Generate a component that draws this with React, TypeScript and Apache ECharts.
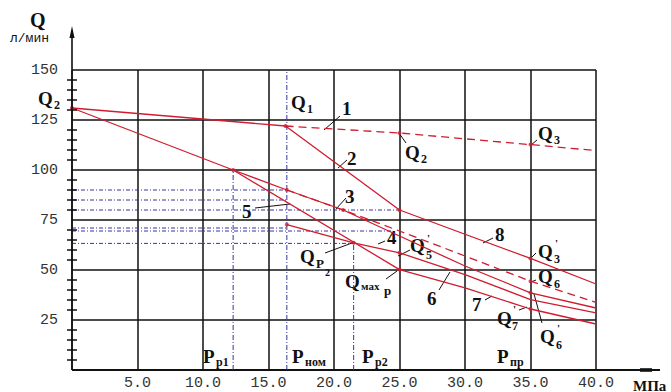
import React, { useEffect, useRef } from "react";
import * as echarts from "echarts";

// ---- data ----
const xMin = 0, xMax = 40, xStep = 5;
const yMin = 0, yMax = 150, yStep = 25, yMinorStep = 5;

const lineQ2toQ1 = [[0, 131], [16.3, 122]];
const curve1 = [[16.3, 122], [25, 118.5], [35, 112.7], [40, 109.7]];
const curve2and8 = [[16.3, 122], [25, 80], [35, 55.8], [40, 43]];
const lineQ2toPp1 = [[0, 131], [12.3, 100]];
const curve3 = [[12.3, 100], [16.4, 90], [20.7, 80], [25, 67], [30, 52], [35, 38.6], [40, 31]];
const curve3dashed = [[16.4, 90], [20.7, 80], [25, 69.5], [30, 57], [35, 44.4], [40, 33.8]];
const curve4and6 = [[16.4, 72.7], [21.5, 63.6], [25, 58.6], [30, 47.7], [35, 35.2], [40, 28.6]];
const curve5and7 = [[12.3, 100], [25, 50.2], [30, 41.1], [35, 30.5], [40, 23]];
const keyPoints = [
  [0, 131], [16.3, 122], [12.3, 100], [16.4, 90], [16.4, 72.7], [20.7, 80], [21.5, 63.6],
  [25, 118.5], [25, 80], [25, 58.6], [25, 50.2], [35, 112.7], [35, 55.8], [35, 44.4], [35, 38.6], [35, 30.5],
];
const levelQ = [90, 85, 80, 71, 69.5, 63.3];
const levelEndP = [16.4, 16.4, 25, 16.4, 24.5, 21.5];
const pressureP = [12.3, 16.4, 21.5];
const pressureTopQ = [100, 150, 63.6];

const RED = "#d01c30";
const BLUE = "#3535a0";
const serif = '"Liberation Serif", "Times New Roman", serif';
const mono = '"Liberation Mono", "DejaVu Sans Mono", monospace';

function txt(x: number, y: number, s: string, size = 19, weight = "bold", family = serif) {
  return {
    type: "text",
    x,
    y,
    silent: true,
    style: {
      text: s,
      fill: "#111",
      font: `${weight} ${size}px ${family}`,
      textAlign: "left",
      textVerticalAlign: "top",
      align: "left",
      verticalAlign: "top",
    },
  };
}
function seg(x1: number, y1: number, x2: number, y2: number, w = 1) {
  return { type: "line", silent: true, shape: { x1, y1, x2, y2 }, style: { stroke: "#111", lineWidth: w } };
}

function redLine(name: string, data: number[][], dashed = false) {
  return {
    name,
    type: "line",
    data,
    symbol: "none",
    lineStyle: { color: RED, width: 1.3, type: dashed ? [8, 5] : "solid" },
    z: 5,
  };
}

export default function App() {
  const ref = useRef<HTMLDivElement>(null);
  useEffect(() => {
    if (!ref.current) return;
    const chart = echarts.init(ref.current, undefined, { renderer: "svg" });

    const blueSeries: any[] = [];
    levelQ.forEach((q, i) => {
      blueSeries.push({
        type: "line",
        data: [[0, q], [levelEndP[i], q]],
        symbol: "none",
        lineStyle: { color: BLUE, width: 1, type: [4, 2, 1, 2] },
        z: 3,
      });
    });
    pressureP.forEach((p, i) => {
      blueSeries.push({
        type: "line",
        data: [[p, 0], [p, pressureTopQ[i]]],
        symbol: "none",
        lineStyle: { color: BLUE, width: 1, type: [5, 2, 1, 2] },
        z: 3,
      });
    });

    const minorValues: number[] = [];
    for (let v = yMin + yMinorStep; v < yMax; v += yMinorStep) {
      if (v % yStep !== 0) minorValues.push(v);
    }

    const option: any = {
      animation: false,
      grid: { left: 72, top: 70, width: 524, height: 300 },
      xAxis: {
        type: "value",
        min: xMin,
        max: xMax,
        interval: xStep,
        axisLine: { show: false },
        axisTick: { show: false },
        axisLabel: {
          margin: 6,
          color: "#333",
          fontFamily: mono,
          fontSize: 15,
          formatter: (v: number) => (v === 0 ? "" : v.toFixed(1)),
        },
        splitLine: { show: true, lineStyle: { color: "#111", width: 1.5 } },
      },
      yAxis: {
        type: "value",
        min: yMin,
        max: yMax,
        interval: yStep,
        axisLine: { show: false },
        axisTick: { show: false },
        axisLabel: {
          margin: 14,
          color: "#333",
          fontFamily: mono,
          fontSize: 15,
          formatter: (v: number) => (v === 0 ? "" : String(v)),
        },
        splitLine: { show: true, lineStyle: { color: "#111", width: 1.5 } },
      },
      series: [
        ...blueSeries,
        redLine("Q2-Q1", lineQ2toQ1),
        redLine("1", curve1, true),
        redLine("2-8", curve2and8),
        redLine("Q2-Pp1", lineQ2toPp1),
        redLine("3", curve3),
        redLine("3d", curve3dashed, true),
        redLine("4-6", curve4and6),
        redLine("5-7", curve5and7),
        {
          type: "scatter",
          data: keyPoints,
          symbolSize: 4,
          itemStyle: { color: RED },
          z: 6,
        },
      ],
    };
    chart.setOption(option);

    const o = chart.convertToPixel({ xAxisIndex: 0, yAxisIndex: 0 }, [0, 0]) as number[];
    const ox = o[0], oy = o[1];
    const top = chart.convertToPixel({ xAxisIndex: 0, yAxisIndex: 0 }, [0, yMax]) as number[];
    const pxPerQ = (oy - top[1]) / (yMax - yMin);

    // y-axis drawn as one polyline that makes the crossing minor ticks
    const axisPts: number[][] = [[ox, oy]];
    minorValues.forEach((v) => {
      const y = oy - (v - yMin) * pxPerQ;
      axisPts.push([ox, y], [ox - 5, y], [ox + 5, y], [ox, y]);
    });
    axisPts.push([ox, 30]);

    const g: any[] = [
      {
        type: "polyline",
        silent: true,
        z: 100,
        shape: { points: axisPts },
        style: { stroke: "#111", lineWidth: 1.6, fill: "none" },
      },
      { type: "polygon", silent: true, shape: { points: [[ox - 2.5, 38], [ox, 26], [ox + 2.5, 38]] }, style: { fill: "#111" } },
      seg(ox, oy, 660, oy, 1.8),
      { type: "rect", silent: true, shape: { x: 640, y: oy - 1.8, width: 12, height: 3.6 }, style: { fill: "#111" } },
      // axis titles
      txt(30, 10, "Q", 20),
      txt(10, 32, "л/мин", 13, "normal", mono),
      txt(633, 378, "МПа", 15),
      // left Q2
      txt(38, 89, "Q", 19), txt(54, 99, "2", 12),
      // Q1 and 1
      txt(291, 93, "Q", 19), txt(307, 103, "1", 12),
      txt(342, 99, "1", 19), seg(324, 130, 340, 116),
      // Q2 on line 1
      txt(405, 143, "Q", 19), txt(421, 153, "2", 12), seg(399, 133, 406, 143),
      // 2
      txt(347, 149, "2", 19), seg(338, 168, 347, 160),
      // 3
      txt(345, 187, "3", 19), seg(336, 209, 346, 198),
      // 5
      txt(242, 202, "5", 19), seg(255, 208, 290, 204),
      // 4
      txt(387, 228, "4", 19), seg(385, 241, 378, 244),
      // Q_P2
      txt(300, 247, "Q", 19), txt(316, 257, "P", 13), txt(325, 267, "2", 10), seg(325, 253, 352, 243),
      // Q5'
      txt(410, 236, "Q", 19), txt(427, 232, "'", 11), txt(426, 249, "5", 12), seg(410, 250, 398, 256),
      // Q max p
      txt(345, 272, "Q", 19), txt(361, 280, "мах", 11), txt(384, 284, "p", 13), seg(386, 279, 397, 271),
      // 6
      txt(427, 289, "6", 19), seg(439, 290, 450, 272),
      // 7
      txt(472, 295, "7", 19), seg(485, 300, 492, 296),
      // 8
      txt(495, 225, "8", 19), seg(493, 238, 483, 243),
      // Q3
      txt(538, 124, "Q", 19), txt(554, 134, "3", 12), seg(537, 140, 531, 145),
      // Q3'
      txt(538, 242, "Q", 19), txt(555, 237, "'", 11), txt(554, 253, "3", 12), seg(536, 253, 531, 258),
      // Q6
      txt(538, 267, "Q", 19), txt(554, 278, "6", 12), seg(536, 280, 531, 282),
      // Q7'
      txt(497, 309, "Q", 19), txt(513, 303, "'", 11), txt(512, 320, "7", 12), seg(519, 310, 527, 307),
      // Q6'
      txt(540, 327, "Q", 19), txt(557, 322, "'", 11), txt(556, 339, "6", 12), seg(542, 323, 534, 294),
      // pressures
      txt(203, 347, "P", 19), txt(216, 356, "p1", 12),
      txt(292, 347, "P", 19), txt(305, 356, "ном", 12),
      txt(362, 347, "P", 19), txt(375, 356, "p2", 12),
      txt(497, 347, "P", 19), txt(510, 356, "пр", 12),
    ];
    chart.setOption({ graphic: { elements: g } });

    return () => chart.dispose();
  }, []);
  return <div ref={ref} style={{ position: "absolute", left: 0, top: 0, width: 671, height: 392, background: "#fff" }} />;
}
